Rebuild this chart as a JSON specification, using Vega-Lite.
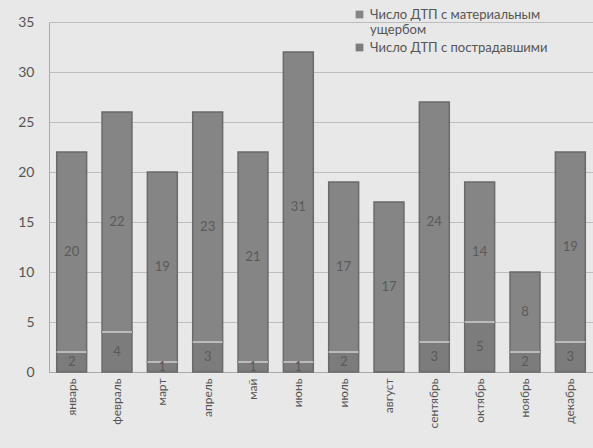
{
  "$schema": "https://vega.github.io/schema/vega-lite/v6.json",
  "autosize": "none",
  "width": 544,
  "height": 350,
  "padding": {"left": 49, "top": 22, "right": 0, "bottom": 76},
  "background": "#e8e8e8",
  "config": {
    "font": "Lato",
    "view": {"stroke": null},
    "axis": {"labelFont": "Lato", "labelColor": "#555555"}
  },
  "data": {
    "values": [
      {"month": "январь", "type": "Число ДТП с материальным ущербом", "value": 20},
      {"month": "январь", "type": "Число ДТП с пострадавшими", "value": 2},
      {"month": "февраль", "type": "Число ДТП с материальным ущербом", "value": 22},
      {"month": "февраль", "type": "Число ДТП с пострадавшими", "value": 4},
      {"month": "март", "type": "Число ДТП с материальным ущербом", "value": 19},
      {"month": "март", "type": "Число ДТП с пострадавшими", "value": 1},
      {"month": "апрель", "type": "Число ДТП с материальным ущербом", "value": 23},
      {"month": "апрель", "type": "Число ДТП с пострадавшими", "value": 3},
      {"month": "май", "type": "Число ДТП с материальным ущербом", "value": 21},
      {"month": "май", "type": "Число ДТП с пострадавшими", "value": 1},
      {"month": "июнь", "type": "Число ДТП с материальным ущербом", "value": 31},
      {"month": "июнь", "type": "Число ДТП с пострадавшими", "value": 1},
      {"month": "июль", "type": "Число ДТП с материальным ущербом", "value": 17},
      {"month": "июль", "type": "Число ДТП с пострадавшими", "value": 2},
      {"month": "август", "type": "Число ДТП с материальным ущербом", "value": 17},
      {"month": "август", "type": "Число ДТП с пострадавшими", "value": 0},
      {"month": "сентябрь", "type": "Число ДТП с материальным ущербом", "value": 24},
      {"month": "сентябрь", "type": "Число ДТП с пострадавшими", "value": 3},
      {"month": "октябрь", "type": "Число ДТП с материальным ущербом", "value": 14},
      {"month": "октябрь", "type": "Число ДТП с пострадавшими", "value": 5},
      {"month": "ноябрь", "type": "Число ДТП с материальным ущербом", "value": 8},
      {"month": "ноябрь", "type": "Число ДТП с пострадавшими", "value": 2},
      {"month": "декабрь", "type": "Число ДТП с материальным ущербом", "value": 19},
      {"month": "декабрь", "type": "Число ДТП с пострадавшими", "value": 3}
    ]
  },
  "transform": [
    {"stack": "value", "groupby": ["month"], "sort": [{"field": "type", "order": "descending"}], "as": ["v0", "v1"]},
    {"calculate": "(datum.v0 + datum.v1) / 2", "as": "mid"}
  ],
  "encoding": {
    "x": {
      "field": "month", "type": "nominal",
      "sort": ["январь","февраль","март","апрель","май","июнь","июль","август","сентябрь","октябрь","ноябрь","декабрь"],
      "scale": {"paddingInner": 0.34, "paddingOuter": 0.17},
      "axis": {"title": null, "labelAngle": -90, "labelFontSize": 12, "labelPadding": 6, "ticks": false, "domain": true, "domainColor": "#aaaaaa"}
    }
  },
  "layer": [
    {
      "mark": {"type": "bar", "stroke": "#6a6a6a", "strokeWidth": 1.5},
      "encoding": {
        "y": {
          "field": "v0", "type": "quantitative",
          "scale": {"domain": [0, 35], "nice": false},
          "axis": {"title": null, "values": [0,5,10,15,20,25,30,35], "labelFontSize": 14, "labelPadding": 15, "ticks": false, "gridColor": "#bdbdbd", "domainColor": "#aaaaaa"}
        },
        "y2": {"field": "v1"},
        "color": {
          "field": "type", "type": "nominal",
          "scale": {"domain": ["Число ДТП с материальным ущербом", "Число ДТП с пострадавшими"], "range": ["#858585", "#7c7c7c"]},
          "legend": {
            "title": null, "orient": "none", "legendX": 304, "legendY": -14,
            "symbolType": "square", "symbolSize": 60, "symbolFillColor": "#555555", "symbolStrokeWidth": 0,
            "labelFontSize": 13, "labelColor": "#555555", "labelLimit": 260, "rowPadding": 4,
            "labelExpr": "datum.label == 'Число ДТП с материальным ущербом' ? ['Число ДТП с материальным', 'ущербом'] : datum.label",
            "encode": {"labels": {"update": {"lineHeight": {"value": 16}}}}
          }
        }
      }
    },
    {
      "transform": [{"filter": "datum.type == 'Число ДТП с пострадавшими' && datum.value > 0"}],
      "mark": {"type": "tick", "color": "#dcdcdc", "thickness": 2, "bandSize": 26},
      "encoding": {"y": {"field": "v1", "type": "quantitative"}}
    },
    {
      "transform": [{"filter": "datum.value > 0"}],
      "mark": {"type": "text", "fontSize": 13, "color": "#5a5a5a", "baseline": "middle"},
      "encoding": {
        "y": {"field": "mid", "type": "quantitative"},
        "text": {"field": "value", "type": "quantitative"}
      }
    }
  ]
}
